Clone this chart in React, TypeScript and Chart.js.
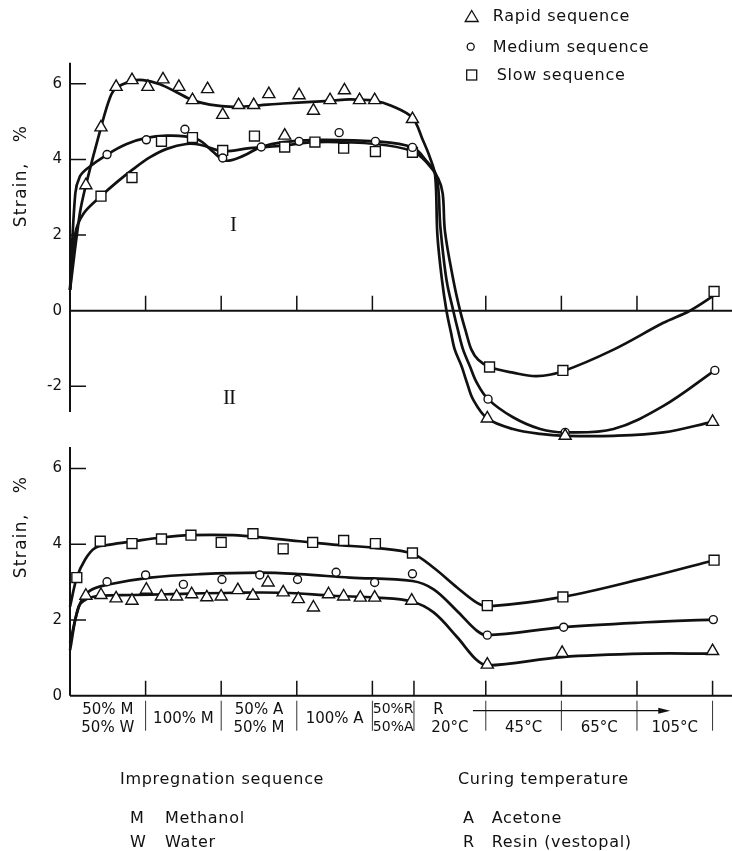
import React, { useEffect, useRef } from 'react';
import { Chart, registerables } from 'chart.js';

Chart.register(...registerables);

const INK = '#111';
const FONT = '"DejaVu Sans", sans-serif';
const SERIF = '"Liberation Serif", "DejaVu Serif", serif';

// ---- axes / ticks ----
const xMin = 0;
const xMax = 8.757;
const topXTicks = [1, 2, 3, 4, 5.5, 6.5, 7.5, 8.5];
const bandEdges = [0, 1, 2, 3, 4, 4.55, 5.5, 6.5, 7.5, 8.5];
const bandLabels = [
  ['50% M', '50% W'],
  ['100% M'],
  ['50% A', '50% M'],
  ['100% A'],
  ['50%R', '50%A'],
  ['R', '20°C'],
  ['', '45°C'],
  ['', '65°C'],
  ['', '105°C'],
];
const arrowFrom = 5.33;
const arrowTo = 7.94;
const topYTicks = [-2, 0, 2, 4, 6];
const bottomYTicks = [0, 2, 4, 6];

// ---- Panel I / II (top) : measured points ----
const topRapidX = [0.21, 0.41, 0.61, 0.82, 1.03, 1.23, 1.44, 1.62, 1.82, 2.02, 2.23, 2.43, 2.63, 2.84, 3.03, 3.22, 3.44, 3.63, 3.83, 4.03, 4.53, 5.52, 6.55, 8.5];
const topRapidY = [3.32, 4.85, 5.92, 6.1, 5.92, 6.12, 5.92, 5.57, 5.86, 5.18, 5.44, 5.44, 5.73, 4.63, 5.7, 5.29, 5.57, 5.83, 5.57, 5.57, 5.07, -2.85, -3.31, -2.94];
const topMediumX = [0.49, 1.01, 1.52, 2.02, 2.53, 3.03, 3.56, 4.04, 4.53, 5.53, 6.55, 8.53];
const topMediumY = [4.13, 4.52, 4.8, 4.04, 4.33, 4.48, 4.71, 4.48, 4.32, -2.34, -3.22, -1.58];
const topSlowX = [0.41, 0.82, 1.21, 1.62, 2.02, 2.44, 2.84, 3.24, 3.62, 4.04, 4.53, 5.55, 6.52, 8.52];
const topSlowY = [3.03, 3.52, 4.48, 4.58, 4.24, 4.62, 4.33, 4.46, 4.3, 4.21, 4.19, -1.49, -1.58, 0.51];

// ---- top : fitted curves ----
const topRapidCurveX = [0, 0.13, 0.21, 0.41, 0.53, 0.61, 0.82, 0.97, 1.19, 1.41, 1.62, 1.85, 2.16, 2.43, 2.82, 3.44, 3.7, 4.03, 4.25, 4.53, 4.67, 4.76, 4.83, 4.86, 4.92, 4.98, 5.04, 5.09, 5.18, 5.25, 5.33, 5.52, 5.86, 6.22, 6.55, 7.19, 7.85, 8.5];
const topRapidCurveY = [0.55, 2.57, 3.32, 4.85, 5.64, 5.89, 6.08, 6.1, 5.99, 5.78, 5.57, 5.45, 5.39, 5.42, 5.48, 5.55, 5.59, 5.55, 5.42, 5.1, 4.5, 4.06, 3.58, 2.0, 0.82, 0, -0.58, -1.03, -1.47, -1.9, -2.34, -2.85, -3.13, -3.26, -3.31, -3.31, -3.22, -2.94];
const topMediumCurveX = [0, 0.07, 0.13, 0.22, 0.49, 0.75, 1.01, 1.28, 1.52, 1.72, 1.9, 2.05, 2.25, 2.53, 2.82, 3.26, 4.04, 4.53, 4.72, 4.85, 4.9, 4.98, 5.07, 5.14, 5.2, 5.29, 5.38, 5.53, 5.86, 6.22, 6.55, 7.19, 7.85, 8.53];
const topMediumCurveY = [0.55, 3.1, 3.55, 3.75, 4.13, 4.41, 4.57, 4.63, 4.61, 4.5, 4.19, 3.97, 4.06, 4.33, 4.46, 4.52, 4.48, 4.32, 3.95, 3.55, 2.2, 0.82, 0, -0.58, -1.03, -1.47, -1.9, -2.34, -2.82, -3.13, -3.22, -3.13, -2.52, -1.58];
const topSlowCurveX = [0, 0.07, 0.18, 0.41, 0.62, 0.84, 1.06, 1.28, 1.54, 1.72, 2.02, 2.38, 2.84, 3.24, 4.04, 4.53, 4.72, 4.87, 4.93, 4.96, 5.07, 5.16, 5.24, 5.31, 5.4, 5.55, 5.86, 6.17, 6.52, 7.19, 7.85, 8.2, 8.51];
const topSlowCurveY = [0.55, 2.04, 2.57, 3.03, 3.4, 3.75, 4.06, 4.28, 4.41, 4.39, 4.22, 4.3, 4.37, 4.46, 4.41, 4.22, 3.92, 3.5, 3.1, 2.1, 0.82, 0, -0.58, -1.03, -1.3, -1.49, -1.64, -1.73, -1.6, -1.03, -0.32, 0, 0.39];

// ---- bottom panel : measured points ----
const botSlowX = [0.09, 0.4, 0.82, 1.21, 1.6, 2.0, 2.42, 2.82, 3.21, 3.62, 4.04, 4.53, 5.52, 6.52, 8.52];
const botSlowY = [3.12, 4.08, 4.02, 4.14, 4.24, 4.05, 4.28, 3.88, 4.05, 4.1, 4.02, 3.77, 2.38, 2.61, 3.58];
const botMediumX = [0.49, 1.0, 1.5, 2.01, 2.51, 3.01, 3.52, 4.03, 4.53, 5.52, 6.53, 8.51];
const botMediumY = [3.01, 3.19, 2.94, 3.07, 3.19, 3.07, 3.26, 2.99, 3.22, 1.6, 1.81, 2.01];
const botRapidX = [0.21, 0.41, 0.61, 0.82, 1.01, 1.21, 1.41, 1.61, 1.81, 2.0, 2.22, 2.42, 2.62, 2.82, 3.02, 3.22, 3.42, 3.62, 3.84, 4.03, 4.52, 5.52, 6.51, 8.5];
const botRapidY = [2.64, 2.66, 2.57, 2.51, 2.8, 2.62, 2.62, 2.68, 2.6, 2.62, 2.79, 2.64, 2.99, 2.73, 2.55, 2.33, 2.68, 2.62, 2.59, 2.59, 2.51, 0.82, 1.13, 1.18];

// ---- bottom : fitted curves ----
const botSlowCurveX = [0, 0.09, 0.2, 0.33, 0.53, 0.84, 1.21, 1.59, 2.16, 2.6, 3.04, 3.48, 4.06, 4.53, 4.81, 5.12, 5.38, 5.53, 6.52, 7.63, 8.52];
const botSlowCurveY = [2.35, 3.12, 3.6, 3.9, 3.99, 4.08, 4.18, 4.24, 4.24, 4.17, 4.08, 3.99, 3.9, 3.75, 3.38, 2.86, 2.46, 2.36, 2.61, 3.12, 3.58];
const botMediumCurveX = [0, 0.13, 0.26, 0.49, 1.06, 1.72, 2.51, 3.04, 3.7, 4.53, 4.81, 5.12, 5.38, 5.52, 6.53, 7.63, 8.51];
const botMediumCurveY = [1.4, 2.42, 2.77, 2.93, 3.12, 3.21, 3.25, 3.21, 3.12, 3.03, 2.81, 2.24, 1.72, 1.6, 1.81, 1.94, 2.01];
const botRapidCurveX = [0, 0.11, 0.22, 0.4, 0.84, 1.28, 2.16, 2.82, 3.48, 4.06, 4.52, 4.81, 5.12, 5.38, 5.53, 6.51, 7.63, 8.5];
const botRapidCurveY = [1.2, 2.33, 2.55, 2.64, 2.66, 2.68, 2.72, 2.72, 2.64, 2.59, 2.49, 2.2, 1.55, 0.94, 0.8, 1.02, 1.11, 1.11];

const legendItems = ['Rapid sequence', 'Medium sequence', 'Slow sequence'];

function pts(xs: number[], ys: number[]) {
  return xs.map((x, i) => ({ x, y: ys[i] }));
}

function curve(xs: number[], ys: number[]) {
  return {
    type: 'line',
    data: pts(xs, ys),
    borderColor: INK,
    borderWidth: 2.7,
    pointRadius: 0,
    tension: 0.35,
    fill: false,
    order: 2,
    clip: false,
  };
}

function markers(xs: number[], ys: number[], style: string, radius: number) {
  return {
    type: 'line',
    data: pts(xs, ys),
    showLine: false,
    pointStyle: style,
    pointRadius: radius,
    pointBorderWidth: 1.4,
    pointBorderColor: INK,
    pointBackgroundColor: '#fff',
    order: 1,
    clip: false,
  };
}

type AxisCfg = {
  yAxisTop: number;
  yAxisBottom: number;
  yTicks: number[];
  xTicks: number[];
  bands: boolean;
};

function axesPlugin(cfg: AxisCfg) {
  return {
    id: 'customAxes',
    beforeDatasetsDraw(chart: any) {
      const { ctx } = chart;
      const xs = chart.scales.x;
      const ys = chart.scales.y;
      const x0 = xs.getPixelForValue(0);
      const y0 = ys.getPixelForValue(0);
      ctx.save();
      ctx.strokeStyle = INK;
      ctx.lineWidth = 2;
      ctx.beginPath();
      ctx.moveTo(x0, ys.getPixelForValue(cfg.yAxisTop));
      ctx.lineTo(x0, ys.getPixelForValue(cfg.yAxisBottom));
      ctx.moveTo(x0, y0);
      ctx.lineTo(chart.width, y0);
      ctx.stroke();
      ctx.lineWidth = 1.5;
      ctx.beginPath();
      cfg.yTicks.forEach((v) => {
        if (v === 0) return;
        const py = ys.getPixelForValue(v);
        ctx.moveTo(x0, py);
        ctx.lineTo(x0 + 16, py);
      });
      cfg.xTicks.forEach((v) => {
        const px = xs.getPixelForValue(v);
        ctx.moveTo(px, y0);
        ctx.lineTo(px, y0 - 15);
      });
      ctx.stroke();

      if (cfg.bands) {
        ctx.lineWidth = 1;
        ctx.strokeStyle = '#333';
        ctx.beginPath();
        bandEdges.slice(1).forEach((v) => {
          const px = xs.getPixelForValue(v);
          ctx.moveTo(px, y0 + 5);
          ctx.lineTo(px, y0 + 35);
        });
        ctx.stroke();
        ctx.fillStyle = INK;
        ctx.textBaseline = 'middle';
        (ctx as any).letterSpacing = '0px';
        bandLabels.forEach((lines, i) => {
          const a = xs.getPixelForValue(bandEdges[i]);
          const b = xs.getPixelForValue(bandEdges[i + 1]);
          const cx = (a + b) / 2;
          ctx.font = i === 4 ? `14px ${FONT}` : `15px ${FONT}`;
          if (i === 5) {
            ctx.textAlign = 'left';
            const w = ctx.measureText(lines[1]).width;
            ctx.fillText(lines[0], cx - w / 2 + 2, y0 + 14);
            ctx.fillText(lines[1], cx - w / 2, y0 + 32);
          } else if (lines.length === 1) {
            ctx.textAlign = 'center';
            ctx.fillText(lines[0], cx, y0 + 23);
          } else {
            ctx.textAlign = 'center';
            ctx.fillText(lines[0], cx, y0 + 14);
            ctx.fillText(lines[1], cx, y0 + 32);
          }
        });
        const ax1 = xs.getPixelForValue(arrowFrom);
        const ax2 = xs.getPixelForValue(arrowTo);
        const ay = y0 + 15;
        ctx.strokeStyle = INK;
        ctx.lineWidth = 1.2;
        ctx.beginPath();
        ctx.moveTo(ax1, ay);
        ctx.lineTo(ax2 - 8, ay);
        ctx.stroke();
        ctx.beginPath();
        ctx.moveTo(ax2, ay);
        ctx.lineTo(ax2 - 12, ay - 3);
        ctx.lineTo(ax2 - 12, ay + 3);
        ctx.closePath();
        ctx.fill();
      }
      ctx.restore();
    },
  };
}

function makeChart(
  canvas: HTMLCanvasElement,
  datasets: any[],
  yMin: number,
  yMax: number,
  yTicks: number[],
  padTop: number,
  padBottom: number,
  cfg: AxisCfg
) {
  return new Chart(canvas, {
    type: 'line',
    data: { datasets },
    options: {
      animation: false,
      responsive: false,
      events: [],
      layout: { autoPadding: false, padding: { top: padTop, bottom: padBottom, left: 0, right: 0 } },
      plugins: { legend: { display: false }, tooltip: { enabled: false } },
      scales: {
        x: { type: 'linear', min: xMin, max: xMax, display: false },
        y: {
          type: 'linear',
          min: yMin,
          max: yMax,
          grid: { display: false, drawTicks: false },
          border: { display: false },
          afterBuildTicks: (s: any) => {
            s.ticks = yTicks.map((v) => ({ value: v }));
          },
          afterFit: (s: any) => {
            s.width = 70;
          },
          ticks: {
            color: INK,
            padding: 8,
            font: { family: FONT, size: 15 },
            callback: (v: any) => `${v}`,
          },
        },
      },
    },
    plugins: [axesPlugin(cfg)],
  } as any);
}

const Txt = ({ x, y, children, size = 16, ls = 0.7, family = FONT }: any) => (
  <div
    style={{
      position: 'absolute',
      left: x,
      top: y,
      transform: 'translateY(-50%)',
      fontFamily: family,
      fontSize: size,
      letterSpacing: ls,
      lineHeight: 1,
      whiteSpace: 'pre',
      color: INK,
    }}
  >
    {children}
  </div>
);

const VLabel = ({ cx, cy }: any) => (
  <div
    style={{
      position: 'absolute',
      left: cx,
      top: cy,
      transform: 'translate(-50%, -50%) rotate(-90deg)',
      fontFamily: FONT,
      fontSize: 17,
      letterSpacing: 1.3,
      lineHeight: 1,
      whiteSpace: 'pre',
      color: INK,
    }}
  >
    {'Strain,   %'}
  </div>
);

export default function App() {
  const topRef = useRef<HTMLCanvasElement>(null);
  const botRef = useRef<HTMLCanvasElement>(null);

  useEffect(() => {
    const top = makeChart(
      topRef.current!,
      [
        markers(topRapidX, topRapidY, 'triangle', 7),
        markers(topMediumX, topMediumY, 'circle', 4),
        markers(topSlowX, topSlowY, 'rect', 7),
        curve(topRapidCurveX, topRapidCurveY),
        curve(topMediumCurveX, topMediumCurveY),
        curve(topSlowCurveX, topSlowCurveY),
      ],
      -3.5,
      6.56,
      topYTicks,
      62.7,
      15,
      { yAxisTop: 6.56, yAxisBottom: -2.68, yTicks: topYTicks, xTicks: topXTicks, bands: false }
    );
    const bot = makeChart(
      botRef.current!,
      [
        markers(botRapidX, botRapidY, 'triangle', 7),
        markers(botMediumX, botMediumY, 'circle', 4),
        markers(botSlowX, botSlowY, 'rect', 7),
        curve(botRapidCurveX, botRapidCurveY),
        curve(botMediumCurveX, botMediumCurveY),
        curve(botSlowCurveX, botSlowCurveY),
      ],
      0,
      6.57,
      bottomYTicks,
      15,
      155.3,
      { yAxisTop: 6.57, yAxisBottom: 0, yTicks: bottomYTicks, xTicks: bandEdges.slice(1), bands: true }
    );
    return () => {
      top.destroy();
      bot.destroy();
    };
  }, []);

  return (
    <div style={{ position: 'absolute', left: 0, top: 0, width: 732, height: 851, background: '#fff', overflow: 'hidden' }}>
      <canvas ref={topRef} width={732} height={460} style={{ position: 'absolute', left: 0, top: 0, width: 732, height: 460 }} />
      <canvas ref={botRef} width={732} height={421} style={{ position: 'absolute', left: 0, top: 430, width: 732, height: 421 }} />

      <svg width={30} height={90} style={{ position: 'absolute', left: 457, top: 4 }}>
        <polygon points="14.7,6.5 21.2,17.5 8.2,17.5" fill="#fff" stroke={INK} strokeWidth={1.3} />
        <circle cx={13.7} cy={42.7} r={3.5} fill="#fff" stroke={INK} strokeWidth={1.3} />
        <rect x={9.7} y={66} width={10} height={10} fill="#fff" stroke={INK} strokeWidth={1.3} />
      </svg>
      <Txt x={492.7} y={16}>{legendItems[0]}</Txt>
      <Txt x={492.7} y={46.7}>{legendItems[1]}</Txt>
      <Txt x={496.7} y={75}>{legendItems[2]}</Txt>

      <VLabel cx={20} cy={176} />
      <VLabel cx={20} cy={527} />

      <Txt x={230} y={224} size={21} ls={0} family={SERIF}>I</Txt>
      <Txt x={223} y={396.5} size={21} ls={-1} family={SERIF}>II</Txt>

      <Txt x={120} y={779}>Impregnation sequence</Txt>
      <Txt x={458} y={779}>Curing temperature</Txt>
      <Txt x={130} y={817.7}>M</Txt>
      <Txt x={165} y={817.7}>Methanol</Txt>
      <Txt x={130} y={841.7}>W</Txt>
      <Txt x={165} y={841.7}>Water</Txt>
      <Txt x={463} y={818}>A</Txt>
      <Txt x={491.7} y={818}>Acetone</Txt>
      <Txt x={463} y={842}>R</Txt>
      <Txt x={491.7} y={842}>Resin (vestopal)</Txt>
    </div>
  );
}
